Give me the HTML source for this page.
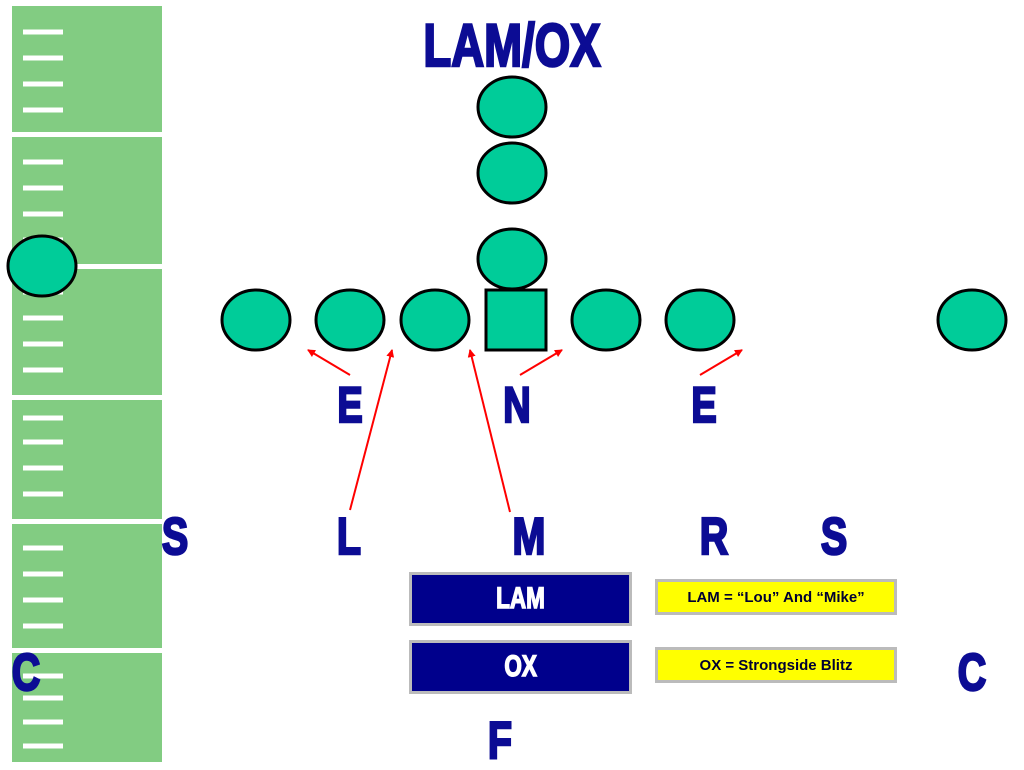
<!DOCTYPE html>
<html><head><style>
body{margin:0;width:1024px;height:768px;background:#fff;overflow:hidden;position:relative;font-family:"Liberation Sans",sans-serif}
.t{position:absolute;color:#0c0c94;font-weight:bold;transform:translateX(-50%) scaleX(0.76);white-space:nowrap;line-height:1;-webkit-text-stroke:2.5px #0c0c94}
.box{position:absolute;background:#00008c;border:3px solid #bbb;box-sizing:border-box;color:#fff;font-weight:bold;display:flex;align-items:center;justify-content:center}
.box span{display:inline-block;transform:scaleX(0.75);font-size:30px;-webkit-text-stroke:1.5px #fff}
.y{position:absolute;background:#ff0;border:3px solid #bbb;box-sizing:border-box;font-weight:bold;font-size:15px;display:flex;align-items:center;justify-content:center;color:#000033}
</style></head><body>
<svg width="1024" height="768" style="position:absolute;left:0;top:0">
<rect x="12" y="6" width="150" height="756" fill="#82cc82"/>
<g fill="#fff">
<rect x="12" y="132" width="150" height="5"/><rect x="12" y="264" width="150" height="5"/><rect x="12" y="395" width="150" height="5"/><rect x="12" y="519" width="150" height="5"/><rect x="12" y="648" width="150" height="5"/>
</g>
<g stroke="#fff" stroke-width="5">
<path d="M23 32H63M23 58H63M23 84H63M23 110H63M23 162H63M23 188H63M23 214H63M23 240H63M23 292H63M23 318H63M23 344H63M23 370H63M23 418H63M23 442H63M23 468H63M23 494H63M23 548H63M23 574H63M23 600H63M23 626H63M23 676H63M23 698H63M23 722H63M23 746H63"/>
</g>
<g fill="#00cc99" stroke="#000" stroke-width="3">
<ellipse cx="512" cy="107" rx="34" ry="30"/><ellipse cx="512" cy="173" rx="34" ry="30"/><ellipse cx="512" cy="259" rx="34" ry="30"/>
<ellipse cx="256" cy="320" rx="34" ry="30"/><ellipse cx="350" cy="320" rx="34" ry="30"/><ellipse cx="435" cy="320" rx="34" ry="30"/>
<ellipse cx="606" cy="320" rx="34" ry="30"/><ellipse cx="700" cy="320" rx="34" ry="30"/><ellipse cx="972" cy="320" rx="34" ry="30"/>
<ellipse cx="42" cy="266" rx="34" ry="30"/>
<rect x="486" y="290" width="60" height="60"/>
</g>
<defs><marker id="a" markerWidth="8" markerHeight="8" refX="7" refY="4" orient="auto" markerUnits="userSpaceOnUse"><path d="M0 0L8 4L0 8z" fill="red"/></marker></defs>
<g stroke="red" stroke-width="2" marker-end="url(#a)">
<line x1="350" y1="375" x2="308" y2="350"/><line x1="350" y1="510" x2="392" y2="350"/><line x1="510" y1="512" x2="470" y2="350"/>
<line x1="520" y1="375" x2="562" y2="350"/><line x1="700" y1="375" x2="742" y2="350"/>
</g>
</svg>
<div class="t" style="left:512px;top:16px;font-size:60px">LAM/OX</div>
<div class="t" style="left:350px;top:380px;font-size:50px">E</div>
<div class="t" style="left:517px;top:380px;font-size:50px">N</div>
<div class="t" style="left:704px;top:380px;font-size:50px">E</div>
<div class="t" style="left:175px;top:511px;font-size:52px">S</div>
<div class="t" style="left:349px;top:511px;font-size:52px">L</div>
<div class="t" style="left:529px;top:511px;font-size:52px">M</div>
<div class="t" style="left:714px;top:511px;font-size:52px">R</div>
<div class="t" style="left:834px;top:511px;font-size:52px">S</div>
<div class="t" style="left:26px;top:647px;font-size:52px">C</div>
<div class="t" style="left:972px;top:647px;font-size:52px">C</div>
<div class="t" style="left:500px;top:715px;font-size:52px">F</div>
<div class="box" style="left:409px;top:572px;width:223px;height:54px"><span>LAM</span></div>
<div class="box" style="left:409px;top:640px;width:223px;height:54px"><span>OX</span></div>
<div class="y" style="left:655px;top:579px;width:242px;height:36px">LAM = “Lou” And “Mike”</div>
<div class="y" style="left:655px;top:647px;width:242px;height:36px">OX = Strongside Blitz</div>
</body></html>
